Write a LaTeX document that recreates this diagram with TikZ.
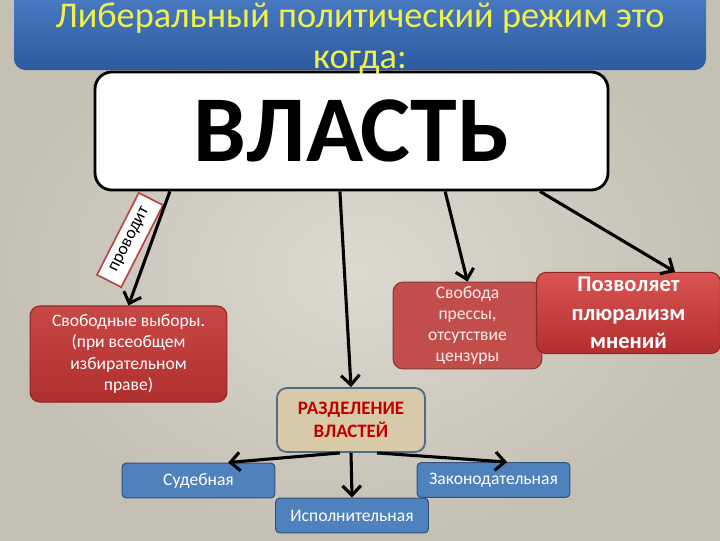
\documentclass[tikz,border=0pt]{standalone}
\usepackage{fontspec}
\setmainfont{Carlito}
\usepackage{xcolor}
\usetikzlibrary{arrows.meta,positioning,shapes,calc}

\definecolor{bgin}{HTML}{DCD9CF}
\definecolor{bgout}{HTML}{C4C0B4}
\definecolor{bartop}{HTML}{4C7EC6}
\definecolor{barbot}{HTML}{2C5A9E}
\definecolor{titleyellow}{HTML}{F0F04C}
\definecolor{redA}{HTML}{C23432}
\definecolor{redB}{HTML}{C24E4B}
\definecolor{redC}{HTML}{D23634}
\definecolor{boxblue}{HTML}{4F81BD}
\definecolor{tan}{HTML}{D8CAA8}
\definecolor{tanborder}{HTML}{4D6B8C}
\definecolor{darkred}{HTML}{C00000}

\begin{document}
\begin{tikzpicture}[x=0.025cm, y=-0.025cm,
    redbox/.style={rectangle, rounded corners=7pt, thick, text=white, align=center},
    bluebox/.style={rectangle, rounded corners=3pt, draw=boxblue!65!black, fill=boxblue, thick, text=white, minimum width=3.82cm, minimum height=0.87cm, font=\fontsize{12.5}{14}\selectfont},
    arrow/.style={-{Straight Barb[length=2.4mm,width=4.6mm]}, line width=2.2pt},
    label/.style={rectangle, draw=red!45!gray, fill=white, line width=1.2pt, font=\fontsize{12.5}{14}\selectfont, inner sep=2pt, minimum width=2.3cm, minimum height=0.68cm}
]
\useasboundingbox (0,0) rectangle (720,540);
\shade[inner color=bgin, outer color=bgout] (0,0) rectangle (720,540);

% Title
\shade[top color=bartop, bottom color=barbot, rounded corners=8pt] (14,-12) rectangle (706,70);

% Power
\node[rectangle, rounded corners=12pt, draw=black, fill=white, line width=2pt, minimum width=12.82cm, minimum height=2.95cm, font=\fontsize{67}{80}\selectfont\bfseries] (vlast) at (351.5,131) {ВЛАСТЬ};
\node[text=titleyellow, align=center, font=\fontsize{25.8}{29}\selectfont, anchor=base] (title) at (360,68) {Либеральный политический режим это\\когда:};

% Features
\node[redbox, draw=redA!75!black, top color=redA!90!white, bottom color=redA!90!black, minimum width=4.92cm, minimum height=2.4cm, font=\fontsize{12.5}{15.3}\selectfont] (vybory) at (128.5,354) {Свободные выборы.\\(при всеобщем\\избирательном\\праве)};
\node[redbox, draw=redB!70!black, fill=redB, text=red!8!white, minimum width=3.72cm, minimum height=2.07cm, font=\fontsize{12.5}{14.8}\selectfont] (pressa) at (467.5,325.5) {Свобода\\прессы,\\отсутствие\\цензуры};
\node[redbox, draw=redC!70!black, top color=redC!85!white, bottom color=redC!85!black, minimum width=4.6cm, minimum height=1.9cm, font=\fontsize{16}{20.3}\selectfont\bfseries] (plural) at (628.5,313) {Позволяет\\плюрализм\\мнений};

% Separation of powers
\node[rectangle, rounded corners=7pt, draw=tanborder, fill=tan, line width=1.3pt, minimum width=3.7cm, minimum height=1.6cm, text=darkred, align=center, font=\fontsize{13.5}{16.4}\selectfont\bfseries] (razdel) at (351,420) {РАЗДЕЛЕНИЕ\\ВЛАСТЕЙ};
\node[bluebox] (sud) at (198.5,480.5) {Судебная};
\node[bluebox] (ispoln) at (352,515.5) {Исполнительная};
\node[bluebox] (zakon) at (493.5,480) {Законодательная};

% Annotation
\node[label, rotate=63] (provodit) at (130,240) {проводит};

% Connections
\draw[arrow] ([xshift=-4.54cm]vlast.south) -- (vybory.north);
\draw[arrow] ([xshift=-0.29cm]vlast.south) -- (razdel.north);
\draw[arrow] ([xshift=2.34cm]vlast.south) -- (pressa.north);
\draw[arrow] ([xshift=4.71cm]vlast.south) -- ([xshift=1.16cm]plural.north);

\draw[arrow] ([xshift=-0.28cm]razdel.south) -- ([xshift=0.74cm]sud.north);
\draw[arrow] (razdel.south) -- (ispoln.north);
\draw[arrow] ([xshift=0.65cm]razdel.south) -- ([xshift=0.34cm]zakon.north);

\end{tikzpicture}
\end{document}
